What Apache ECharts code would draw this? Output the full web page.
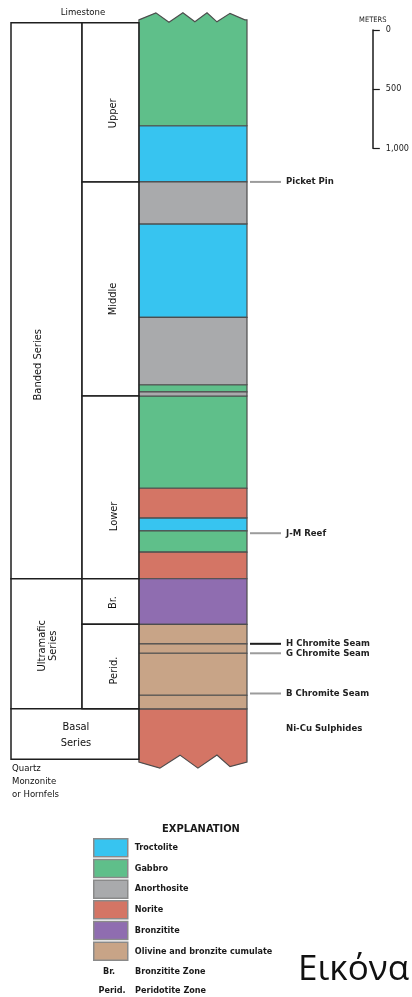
<!DOCTYPE html>
<html>
<head>
<meta charset="utf-8">
<script src="https://cdn.jsdelivr.net/npm/echarts@6/dist/echarts.min.js"></script>
<style>
  html, body { margin: 0; padding: 0; background: #fff; }
  #chart { width: 412px; height: 997px; }
</style>
</head>
<body>
<div id="chart"></div>
<script>
// Generalized stratigraphic column; depths are metres below the roof contact.

const rockTypes = ['Troctolite', 'Gabbro', 'Anorthosite', 'Norite', 'Bronzitite', 'Olivine and bronzite cumulate'];

const layerTops  = [0, 870, 1345, 1700, 2490, 3060, 3120, 3155, 3935, 4185, 4295, 4475, 4700, 5085, 5250, 5330, 5685, 5800];
const layerBases = [870, 1345, 1700, 2490, 3060, 3120, 3155, 3935, 4185, 4295, 4475, 4700, 5085, 5250, 5330, 5685, 5800, 6225];
const layerRocks = [
  'Gabbro', 'Troctolite', 'Anorthosite', 'Troctolite', 'Anorthosite', 'Gabbro', 'Anorthosite',
  'Gabbro', 'Norite', 'Troctolite', 'Gabbro', 'Norite',
  'Bronzitite',
  'Olivine and bronzite cumulate', 'Olivine and bronzite cumulate', 'Olivine and bronzite cumulate', 'Olivine and bronzite cumulate',
  'Norite'
];

const seriesNames = ['Banded Series', 'Ultramafic\nSeries', 'Basal\nSeries'];
const seriesTops  = [0, 4700, 5800];
const seriesBases = [4700, 5800, 6225];

const zoneNames = ['Upper', 'Middle', 'Lower', 'Br.', 'Perid.'];
const zoneTops  = [0, 1345, 3155, 4700, 5085];
const zoneBases = [1345, 3155, 4700, 5085, 5800];

const horizonNames  = ['Picket Pin', 'J-M Reef', 'H Chromite Seam', 'G Chromite Seam', 'B Chromite Seam', 'Ni-Cu Sulphides'];
const horizonDepths = [1345, 4315, 5250, 5330, 5670, 5970];

const wallRockNames  = ['Limestone', 'Quartz\nMonzonite\nor Hornfels'];
const wallRockDepths = [0, 6225];

const scaleTicks  = [0, 500, 1000];
const scaleLabels = ['0', '500', '1,000'];

// ---- styling / layout ----
const rockColors = {
  'Troctolite': '#37c4f0',
  'Gabbro': '#5fbf8a',
  'Anorthosite': '#a9aaac',
  'Norite': '#d47565',
  'Bronzitite': '#8f6db0',
  'Olivine and bronzite cumulate': '#c8a487'
};
const FONT = '"DejaVu Sans Condensed", "Liberation Sans Narrow", sans-serif';
const COL = { seriesL: 0, zoneL: 30.1, rockL: 54.2, right: 100 };
const COLUMN_TOP = layerTops[0];
const COLUMN_BASE = layerBases[layerBases.length - 1];
// label nudges in pixels (down, right)
const labelNudge = {
  'Upper': [11, 3], 'Middle': [10, 3], 'Lower': [29, 4], 'Br.': [1, 3], 'Perid.': [4, 4],
  'Banded Series': [64, -8], 'Ultramafic\nSeries': [2, 1], 'Basal\nSeries': [1, 1]
};
// broken-edge profiles for the open top and bottom of the column: [fraction of width, px offset]
const topEdge = [[0, -3], [0.157, -10], [0.278, -0.5], [0.407, -10], [0.518, -1], [0.63, -10], [0.722, -1], [0.843, -9.5], [0.98, -3], [1, -3]];
const baseEdge = [[0, 3], [0.194, 9], [0.38, -4], [0.546, 9], [0.722, -4], [0.843, 7.5], [1, 3]];

function rockItem(params, api) {
  const top = api.value(0), base = api.value(1);
  const a = api.coord([COL.rockL, top]);
  const b = api.coord([COL.right, base]);
  const x0 = a[0], y0 = a[1], x1 = b[0], y1 = b[1], w = x1 - x0;
  const pts = [];
  if (top === COLUMN_TOP) {
    topEdge.forEach(p => pts.push([x0 + p[0] * w, y0 + p[1]]));
  } else {
    pts.push([x0, y0], [x1, y0]);
  }
  if (base === COLUMN_BASE) {
    baseEdge.slice().reverse().forEach(p => pts.push([x0 + p[0] * w, y1 + p[1]]));
  } else {
    pts.push([x1, y1], [x0, y1]);
  }
  return {
    type: 'polygon',
    shape: { points: pts },
    style: { fill: api.visual('color'), stroke: '#4d4d4d', lineWidth: 1.2 }
  };
}

const rockSeries = rockTypes.map(rock => ({
  type: 'custom',
  name: rock,
  coordinateSystem: 'cartesian2d',
  xAxisIndex: 0, yAxisIndex: 0,
  clip: false,
  itemStyle: { color: rockColors[rock] },
  encode: { y: [0, 1] },
  data: layerRocks.map((r, i) => r === rock ? [layerTops[i], layerBases[i]] : null).filter(d => d),
  renderItem: rockItem,
  z: 2
}));

// stratigraphic units: level 0 = series column, level 1 = zone column
const unitData = [];
seriesNames.forEach((n, i) => unitData.push({ name: n, value: [seriesTops[i], seriesBases[i], 0] }));
zoneNames.forEach((n, i) => unitData.push({ name: n, value: [zoneTops[i], zoneBases[i], 1] }));

function unitItem(params, api) {
  const item = unitData[params.dataIndex];
  const name = item.name;
  const top = api.value(0), base = api.value(1), level = api.value(2);
  // a series with no zones beneath it spans both columns
  const hasZones = zoneTops.some((t, i) => t >= top && zoneBases[i] <= base);
  const left = level === 0 ? COL.seriesL : COL.zoneL;
  const right = (level === 0 && hasZones) ? COL.zoneL : COL.rockL;
  const a = api.coord([left, top]);
  const b = api.coord([right, base]);
  const nudge = labelNudge[name] || [0, 0];
  const cx = (a[0] + b[0]) / 2 + nudge[1];
  const cy = (a[1] + b[1]) / 2 + nudge[0];
  const rotated = hasZones || level === 1;
  return {
    type: 'group',
    children: [
      {
        type: 'rect',
        shape: { x: a[0], y: a[1], width: b[0] - a[0], height: b[1] - a[1] },
        style: { fill: '#fff', stroke: '#1e1e1e', lineWidth: 1.5 }
      },
      {
        type: 'text',
        x: cx, y: cy,
        rotation: rotated ? Math.PI / 2 : 0,
        style: {
          text: name,
          align: 'center', verticalAlign: 'middle',
          font: '11px ' + FONT, fill: '#111', lineHeight: rotated ? 11 : 16
        }
      }
    ]
  };
}

function horizonItem(params, api) {
  const name = horizonNames[params.dataIndex];
  const p = api.coord([COL.right, api.value(0)]);
  const children = [];
  if (name !== 'Ni-Cu Sulphides') {
    children.push({
      type: 'line',
      shape: { x1: p[0] + 3, y1: p[1], x2: p[0] + 34, y2: p[1] },
      style: { stroke: name === 'H Chromite Seam' ? '#1e1e1e' : '#9c9c9c', lineWidth: 2 }
    });
  }
  children.push({
    type: 'text', x: p[0] + 39, y: p[1],
    style: { text: name, align: 'left', verticalAlign: 'middle', font: 'bold 9.5px ' + FONT, fill: '#222' }
  });
  return { type: 'group', children };
}

function wallRockItem(params, api) {
  const name = wallRockNames[params.dataIndex];
  const depth = api.value(0);
  if (depth === COLUMN_TOP) {
    const p = api.coord([COL.zoneL, depth]);
    return {
      type: 'text', x: p[0] + 1, y: p[1] - 10,
      style: { text: name, align: 'center', verticalAlign: 'middle', font: '9.5px ' + FONT, fill: '#111' }
    };
  }
  const p = api.coord([COL.seriesL, depth]);
  return {
    type: 'text', x: p[0] + 1, y: p[1] + 3,
    style: { text: name, align: 'left', verticalAlign: 'top', font: '9.5px ' + FONT, fill: '#111', lineHeight: 13 }
  };
}

const chart = echarts.init(document.getElementById('chart'), null, { renderer: 'canvas' });

chart.setOption({
  animation: false,
  backgroundColor: '#fff',
  grid: [
    { left: 11, top: 11, width: 236, height: 757 },
    { left: 300, top: 30, width: 73, height: 118.28 }
  ],
  xAxis: [
    { gridIndex: 0, type: 'value', min: 0, max: 100, show: false },
    { gridIndex: 1, type: 'value', min: 0, max: 1, show: false }
  ],
  yAxis: [
    { gridIndex: 0, type: 'value', min: -100, max: 6300, inverse: true, show: false },
    {
      gridIndex: 1, type: 'value', position: 'right', inverse: true,
      min: scaleTicks[0], max: scaleTicks[scaleTicks.length - 1], interval: scaleTicks[1] - scaleTicks[0],
      name: 'METERS', nameLocation: 'start', nameGap: 6,
      nameTextStyle: { fontFamily: FONT, fontSize: 7.5, color: '#1a1a1a', align: 'center' },
      splitLine: { show: false },
      axisLine: { show: true, onZero: false, lineStyle: { color: '#1a1a1a', width: 1.5 } },
      axisTick: { show: true, length: 7, lineStyle: { color: '#1a1a1a', width: 1.2 } },
      axisLabel: {
        margin: 13, color: '#1a1a1a', fontFamily: FONT, fontSize: 9,
        formatter: v => scaleLabels[scaleTicks.indexOf(v)]
      }
    }
  ],
  legend: {
    data: rockTypes,
    orient: 'vertical',
    left: 93, top: 838,
    padding: 0,
    itemWidth: 34, itemHeight: 18, itemGap: 1.2,
    icon: 'rect',
    selectedMode: false,
    itemStyle: { borderColor: '#8a8a8a', borderWidth: 1.5 },
    textStyle: { fontFamily: FONT, fontSize: 9, fontWeight: 'bold', color: '#1a1a1a', padding: [0, 0, 0, 2] }
  },
  graphic: [
    { type: 'text', left: 162, top: 824, style: { text: 'EXPLANATION', font: 'bold 11px ' + FONT, fill: '#1a1a1a' } },
    { type: 'text', x: 109, y: 972, style: { text: 'Br.', align: 'center', verticalAlign: 'middle', font: 'bold 9px ' + FONT, fill: '#1a1a1a' } },
    { type: 'text', x: 135, y: 972, style: { text: 'Bronzitite Zone', align: 'left', verticalAlign: 'middle', font: 'bold 9px ' + FONT, fill: '#1a1a1a' } },
    { type: 'text', x: 112, y: 991, style: { text: 'Perid.', align: 'center', verticalAlign: 'middle', font: 'bold 9px ' + FONT, fill: '#1a1a1a' } },
    { type: 'text', x: 135, y: 991, style: { text: 'Peridotite Zone', align: 'left', verticalAlign: 'middle', font: 'bold 9px ' + FONT, fill: '#1a1a1a' } },
    { type: 'text', x: 298, y: 970, style: { text: 'Εικόνα', align: 'left', verticalAlign: 'middle', font: '35px "Open Sans", "Noto Sans", sans-serif', fill: '#111' } }
  ],
  series: rockSeries.concat([
    {
      type: 'custom', name: 'units', coordinateSystem: 'cartesian2d', clip: false,
      encode: { y: [0, 1] },
      data: unitData, renderItem: unitItem, z: 3
    },
    {
      type: 'custom', name: 'horizons', coordinateSystem: 'cartesian2d', clip: false,
      encode: { y: 0 },
      data: horizonDepths.map(d => [d]), renderItem: horizonItem, z: 3
    },
    {
      type: 'custom', name: 'wall rocks', coordinateSystem: 'cartesian2d', clip: false,
      encode: { y: 0 },
      data: wallRockDepths.map(d => [d]), renderItem: wallRockItem, z: 3
    }
  ])
});
</script>
</body>
</html>
